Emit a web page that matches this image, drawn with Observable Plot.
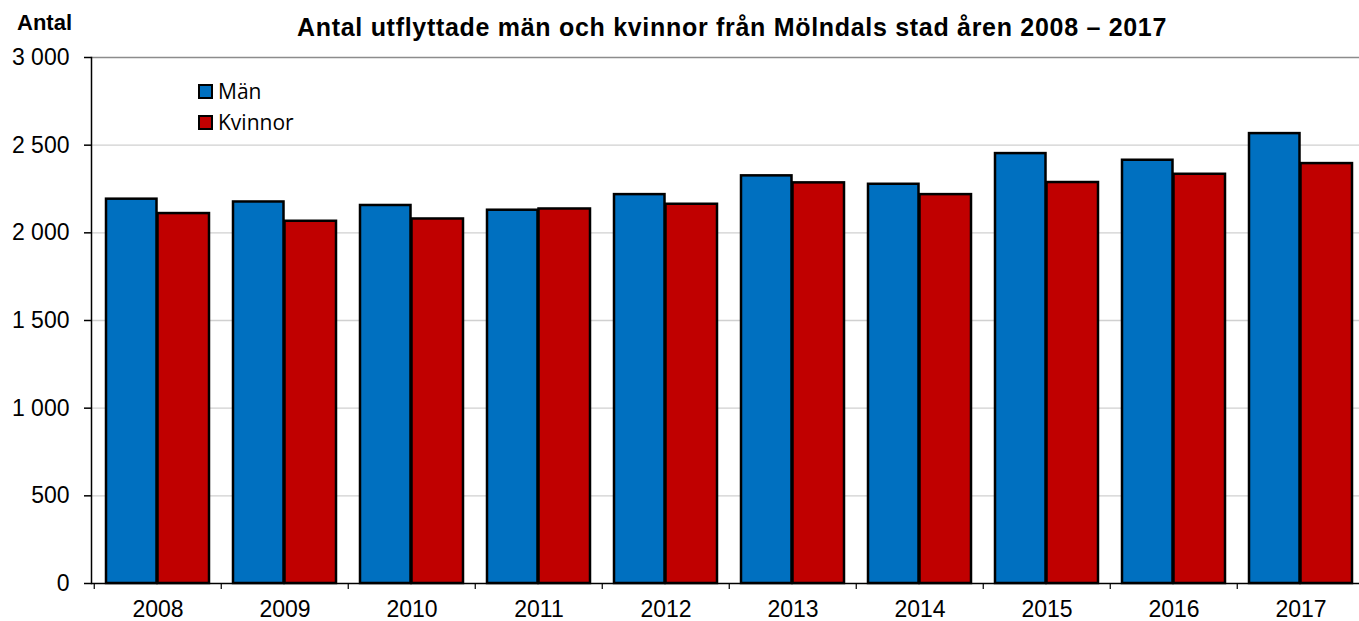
<!DOCTYPE html>
<html>
<head>
<meta charset="utf-8">
<script src="https://cdn.jsdelivr.net/npm/d3@7"></script>
<script src="https://cdn.jsdelivr.net/npm/@observablehq/plot@0.6"></script>
<style>
  html, body { margin: 0; padding: 0; background: #fff; }
  #wrap { position: relative; width: 1359px; height: 621px; overflow: hidden; font-family: "Liberation Sans", Arial, sans-serif; }
  #title { position: absolute; left: 297px; top: 15px; font-weight: bold; font-size: 25px; line-height: 25px; letter-spacing: 0.7px; white-space: nowrap; color: #000; }
  #ylab { position: absolute; left: 17px; top: 12px; font-weight: bold; font-size: 22px; line-height: 22px; color: #000; }
  .leg { position: absolute; left: 198px; display: flex; align-items: center; font-family: "Open Sans", sans-serif; font-size: 21px; line-height: 24px; color: #000; white-space: nowrap; }
  .leg .sw { width: 11px; height: 11px; border: 2px solid #000; margin-right: 5px; }
  #chart { position: absolute; left: 0; top: 0; }
</style>
</head>
<body>
<div id="wrap">
  <div id="chart"></div>
  <div id="ylab">Antal</div>
  <div id="title">Antal utflyttade män och kvinnor från Mölndals stad åren 2008 – 2017</div>
  <div id="legend"></div>
</div>
<script>
const years = ["2008","2009","2010","2011","2012","2013","2014","2015","2016","2017"];
const man = [2192, 2176, 2156, 2129, 2218, 2325, 2277, 2452, 2414, 2566];
const kvinnor = [2110, 2066, 2079, 2136, 2163, 2285, 2218, 2287, 2334, 2395];
const seriesNames = ["Män", "Kvinnor"];
const seriesColors = ["#0070C0", "#C00000"];
const yTicks = [0, 500, 1000, 1500, 2000, 2500, 3000];

const manRows = years.map((y, i) => ({year: y, value: man[i]}));
const kvRows = years.map((y, i) => ({year: y, value: kvinnor[i]}));
const fmt = d => d3.format(",")(d).replace(/,/g, " ");

const chart = Plot.plot({
  width: 1359,
  height: 621,
  marginTop: 57,
  marginBottom: 38,
  marginLeft: 91,
  marginRight: 0,
  x: {type: "band", domain: years, range: [91, 1366], padding: 0},
  y: {domain: [0, 3000], range: [583, 57]},
  style: {fontFamily: "'Liberation Sans', Arial, sans-serif", fontSize: "23px", color: "#000", background: "#fff"},
  marks: [
    Plot.gridY(yTicks.slice(1, -1), {stroke: "#d0d0d0", strokeOpacity: 1, strokeWidth: 1.3}),
    Plot.ruleY([3000], {stroke: "#8c8c8c", strokeWidth: 1.5}),
    Plot.barY(manRows, {x: "year", y: "value", fill: seriesColors[0], stroke: "#000", strokeWidth: 2.5, insetLeft: 12, insetRight: 64.5}),
    Plot.barY(kvRows, {x: "year", y: "value", fill: seriesColors[1], stroke: "#000", strokeWidth: 2.5, insetLeft: 63.5, insetRight: 12}),
    Plot.frame({anchor: "left", stroke: "#000", strokeWidth: 1.5}),
    Plot.ruleY([0], {stroke: "#000", strokeWidth: 1.5}),
    Plot.axisY(yTicks, {tickSize: 7, tickPadding: 15, tickFormat: fmt, fontSize: 23, stroke: "#000", strokeWidth: 1.5, label: null}),
    Plot.axisX({tickSize: 0, tickPadding: 17, fontSize: 23, label: null}),
    Plot.axisX({tickSize: 6, tickFormat: () => "", dx: -63.75, stroke: "#000", strokeWidth: 1.2, label: null})
  ]
});
document.getElementById("chart").appendChild(chart);

const legend = document.getElementById("legend");
seriesNames.forEach((name, i) => {
  const row = document.createElement("div");
  row.className = "leg";
  row.style.top = (79 + i * 31) + "px";
  const sw = document.createElement("div");
  sw.className = "sw";
  sw.style.background = seriesColors[i];
  const t = document.createElement("span");
  t.textContent = name;
  row.appendChild(sw);
  row.appendChild(t);
  legend.appendChild(row);
});
</script>
</body>
</html>
